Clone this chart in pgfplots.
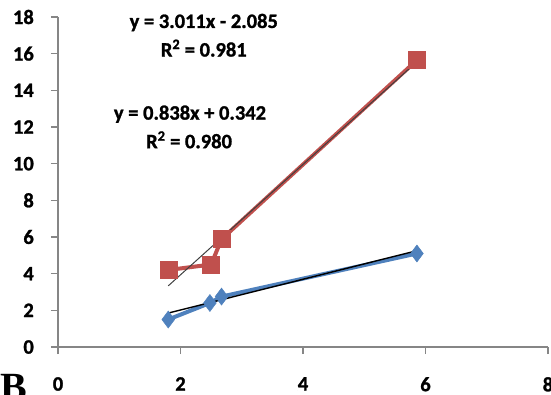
\documentclass[border=0pt]{standalone}
\usepackage{pgfplots}
\pgfplotsset{compat=1.18}
\usepackage{fontspec}
\setmainfont{Carlito}[BoldFeatures={FakeBold=1.2}]
\newfontfamily\serifB{Liberation Serif}
\definecolor{sblue}{HTML}{4F81BD}
\definecolor{sred}{HTML}{C0504D}
\definecolor{axgray}{HTML}{868686}
\begin{document}
\begin{tikzpicture}[x=1bp,y=1bp]
\begin{axis}[
  scale only axis,
  width=490bp, height=330bp,
  at={(0,0)}, anchor=south west,
  xmin=0, xmax=8, ymin=0, ymax=18,
  xtick={0,2,4,6,8}, ytick={0,2,...,18},
  xticklabels={\textbf{0},\textbf{2},\textbf{4},\textbf{6},\textbf{8}},
  yticklabels={\textbf{0},\textbf{2},\textbf{4},\textbf{6},\textbf{8},\textbf{10},\textbf{12},\textbf{14},\textbf{16},\textbf{18}},
  axis x line=bottom, axis y line=left,
  axis line style={-, draw=axgray, line width=1.3bp},
  tick style={draw=axgray, line width=1.3bp},
  tick align=outside, major tick length=7bp,
  tick label style={font=\fontsize{20.5bp}{24bp}\selectfont\bfseries, inner sep=0pt},
  yticklabel style={anchor=east, xshift=-17bp},
  xticklabel style={anchor=north, yshift=-23bp},
  clip=false,
]
% series 1 (blue)
\addplot[sblue, line width=4bp, mark=diamond*, mark size=8.5bp, mark options={fill=sblue, draw=sblue, line width=0.5bp}]
  coordinates {(1.8,1.5) (2.48,2.4) (2.67,2.75) (5.86,5.1)};
% series 2 (red)
\addplot[sred, line width=4bp, mark=square*, mark size=8.5bp, mark options={fill=sred, draw=sred, line width=0.5bp}]
  coordinates {(1.8,4.2) (2.5,4.5) (2.67,5.88) (5.86,15.65)};
% trendlines
\addplot[black, line width=1.4bp] coordinates {(1.8,1.850) (5.86,5.253)};
\addplot[black!75, line width=1bp] coordinates {(1.8,3.335) (5.86,15.559)};
\node[font=\fontsize{20.5bp}{24bp}\selectfont\bfseries] at (axis cs:2.38,17.7) {y = 3.011x - 2.085};
\node[font=\fontsize{20.5bp}{24bp}\selectfont\bfseries] at (axis cs:2.38,16.3) {R\textsuperscript{2} = 0.981};
\node[font=\fontsize{20.5bp}{24bp}\selectfont\bfseries] at (axis cs:2.155,12.7) {y = 0.838x + 0.342};
\node[font=\fontsize{20.5bp}{24bp}\selectfont\bfseries] at (axis cs:2.14,11.3) {R\textsuperscript{2} = 0.980};
\end{axis}
\node[anchor=base west, inner sep=0pt, font=\fontsize{40bp}{44bp}\selectfont\serifB\bfseries] at (-58bp,-53bp) {B};
\pgfresetboundingbox
\useasboundingbox (-58bp,-48bp) rectangle (493bp,347bp);
\end{tikzpicture}
\end{document}
